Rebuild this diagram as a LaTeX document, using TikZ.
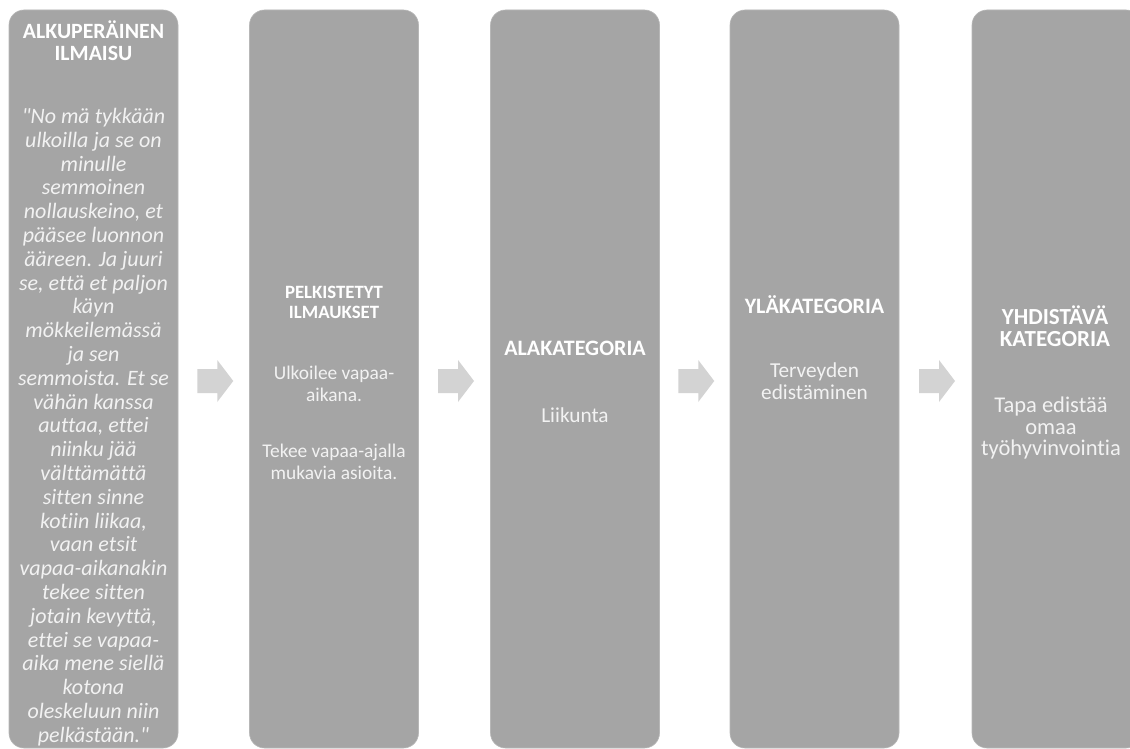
\documentclass[tikz,border=0pt]{standalone}
\usepackage{fontspec}
\setmainfont{Carlito}[Ligatures={TeXOff,NoCommon}]
\usetikzlibrary{calc}
\definecolor{boxgray}{HTML}{A5A5A5}
\definecolor{arrowgray}{HTML}{D3D3D3}
\definecolor{bodytext}{HTML}{F2F2F2}
\tikzset{
  stage/.style={fill=boxgray, draw=boxgray!80!white, line width=0.6pt,
    rounded corners=15pt, minimum width=169pt, minimum height=738pt,
    inner sep=0pt},
  heading/.style={text=white, font=\bfseries, align=center, inner sep=0pt},
  body/.style={text=bodytext, align=center, inner sep=0pt},
  flowarrow/.pic={
    \fill[arrowgray] (-18,-12) -- (2,-12) -- (2,-21) -- (18,0) -- (2,21)
      -- (2,12) -- (-18,12) -- cycle;
  }
}
\newcommand{\fsz}[2]{\fontsize{#1}{#2}\selectfont}
\begin{document}
\begin{tikzpicture}[x=1pt,y=-1pt]
\clip (0,0) rectangle (1130,749);
\fill[white] (0,0) rectangle (1130,749);

% the five stages of the analysis
\node[stage] (b1) at (93.5,379) {};
\node[stage] (b2) at (334,379) {};
\node[stage] (b3) at (575,379) {};
\node[stage] (b4) at (814.5,379) {};
\node[stage] (b5) at (1056.5,379) {};

% block arrows between the stages
\path ($(b1.east)!0.5!(b2.west)+(1.5,2)$) coordinate (a1) pic {flowarrow};
\path ($(b2.east)!0.5!(b3.west)+(1.5,2)$) coordinate (a2) pic {flowarrow};
\path ($(b3.east)!0.5!(b4.west)+(1.5,2)$) coordinate (a3) pic {flowarrow};
\path ($(b4.east)!0.5!(b5.west)+(1.5,2)$) coordinate (a4) pic {flowarrow};

% stage 1
\node[heading, font=\bfseries\fsz{21.8}{22}] (t1) at (93.5,41)
  {ALKUPERÄINEN\\ILMAISU};
\node[body, font=\itshape\fsz{22}{23.8}] (q1) at (93.5,427)
  {"No mä tykkään\\ ulkoilla ja se on\\ minulle\\ semmoinen\\ nollauskeino, et\\
   pääsee luonnon\\ ääreen. Ja juuri\\ se, että et paljon\\ käyn\\ mökkeilemässä\\
   ja sen\\ semmoista. Et se\\ vähän kanssa\\ auttaa, ettei\\ niinku jää\\
   välttämättä\\ sitten sinne\\ kotiin liikaa,\\ vaan etsit\\ vapaa-aikanakin\\
   tekee sitten\\ jotain kevyttä,\\ ettei se vapaa-\\ aika mene siellä\\
   kotona\\ oleskeluun niin\\ pelkästään."};

% stage 2
\node[heading, font=\bfseries\fsz{18.8}{20}] (t2) at (334,302)
  {PELKISTETYT\\ILMAUKSET};
\node[body, font=\fsz{19.4}{21.5}] (p1) at (334,384) {Ulkoilee vapaa-\\aikana.};
\node[body, font=\fsz{19.4}{21.5}] (p2) at (334,462) {Tekee vapaa-ajalla\\mukavia asioita.};

% stage 3
\node[heading, font=\bfseries\fsz{22}{22}] (t3) at (575,348) {ALAKATEGORIA};
\node[body, font=\fsz{21.3}{22}] (s3) at (575,415) {Liikunta};

% stage 4
\node[heading, font=\bfseries\fsz{22}{22}] (t4) at (814.5,305) {YLÄKATEGORIA};
\node[body, font=\fsz{21.3}{22}] (s4) at (814.5,381) {Terveyden\\edistäminen};

% stage 5
\node[heading, font=\bfseries\fsz{23}{22}] (t5) at (1055,326) {YHDISTÄVÄ\\KATEGORIA};
\node[body, font=\fsz{22.5}{21.5}] (s5) at (1051,428) {Tapa edistää\\omaa\\työhyvinvointia};
\end{tikzpicture}
\end{document}
